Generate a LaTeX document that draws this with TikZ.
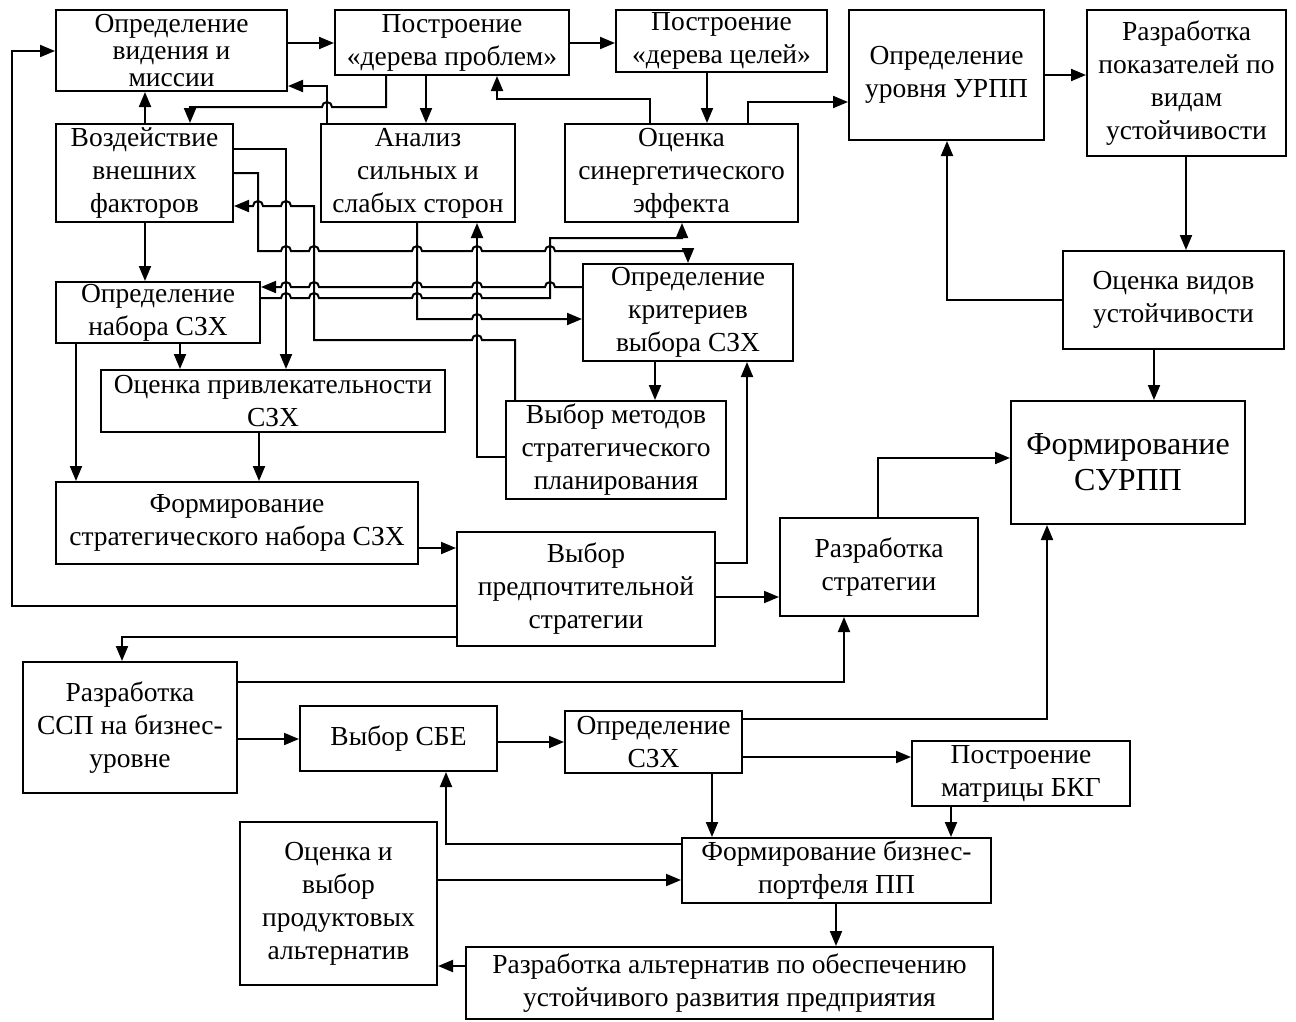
\documentclass[tikz,border=0pt]{standalone}
\usepackage{fontspec}
\setmainfont{Liberation Serif}
\usetikzlibrary{arrows.meta}

% box given by its corners (x1,y1)-(x2,y2), y measured downwards
\newcommand\blk[7][]{%
  \node[box, #1, minimum width={#5-#3}, minimum height={#6-#4}]
    (#2) at ({(#3+#5)/2},{(#4+#6)/2}) {#7};}
% small upward hop over a vertical line at x=#1 on a horizontal run at y=#2
\newcommand\hopR[2]{-- ({#1-5},#2) arc[start angle=180,end angle=0,radius=5pt]}
\newcommand\hopL[2]{-- ({#1+5},#2) arc[start angle=0,end angle=180,radius=5pt]}

\tikzset{
  box/.style={draw, line width=2pt, align=center, inner sep=0pt,
    font=\fontsize{27.5}{33}\selectfont},
  arr/.style={line width=2pt, -{Triangle[length=15pt,width=12pt]}},
}

\begin{document}
\begin{tikzpicture}[x=1pt,y=-1pt]
\fill[white] (0,0) rectangle (1296,1021);
\useasboundingbox (0,0) rectangle (1296,1021);

% ---- blocks ----
\blk[font=\fontsize{27.5}{27}\selectfont]{vision}{56}{10}{287}{91}{Определение\\видения и\\миссии}
\blk{probtree}{335}{10}{569}{75}{Построение\\«дерева проблем»}
\blk{goaltree}{616}{10}{827}{72}{Построение\\«дерева целей»}
\blk{urpp}{849}{10}{1044}{140}{Определение\\уровня УРПП}
\blk{indic}{1087}{10}{1286}{156}{Разработка\\показателей по\\видам\\устойчивости}
\blk{external}{56}{124}{233}{222}{Воздействие\\внешних\\факторов}
\blk{swot}{321}{124}{515}{222}{Анализ\\сильных и\\слабых сторон}
\blk{synergy}{565}{124}{798}{222}{Оценка\\синергетического\\эффекта}
\blk{setszh}{56}{282}{260}{343}{Определение\\набора СЗХ}
\blk{criteria}{583}{264}{793}{361}{Определение\\критериев\\выбора СЗХ}
\blk{attract}{101}{370}{445}{432}{Оценка привлекательности\\СЗХ}
\blk{methods}{506}{401}{726}{499}{Выбор методов\\стратегического\\планирования}
\blk{assess}{1063}{251}{1284}{349}{Оценка видов\\устойчивости}
\blk[font=\fontsize{32}{36}\selectfont]{surpp}{1011}{401}{1245}{524}{Формирование\\СУРПП}
\blk{stratset}{56}{482}{418}{564}{Формирование\\стратегического набора СЗХ}
\blk{prefer}{457}{532}{715}{646}{Выбор\\предпочтительной\\стратегии}
\blk{strategy}{780}{518}{978}{616}{Разработка\\стратегии}
\blk{ssp}{23}{662}{237}{793}{Разработка\\ССП на бизнес-\\уровне}
\blk{sbe}{300}{706}{497}{771}{Выбор СБЕ}
\blk{szh}{565}{711}{742}{773}{Определение\\СЗХ}
\blk{bkg}{912}{741}{1130}{806}{Построение\\матрицы БКГ}
\blk{portfolio}{682}{838}{991}{903}{Формирование бизнес-\\портфеля ПП}
\blk{product}{240}{822}{437}{985}{Оценка и\\выбор\\продуктовых\\альтернатив}
\blk{alt}{466}{947}{993}{1019}{Разработка альтернатив по обеспечению\\устойчивого развития предприятия}

% ---- top row ----
\draw[arr] (vision.east |- 0,43) -- (probtree.west |- 0,43);
\draw[arr] (probtree.east |- 0,43) -- (goaltree.west |- 0,43);
\draw[arr] (goaltree.south -| 707,0) -- (synergy.north -| 707,0);
\draw[arr] (synergy.north -| 748,0) |- (urpp.west |- 0,102);
\draw[arr] (synergy.north -| 650,0) |- (497,99) -- (probtree.south -| 497,0);
\draw[arr] (probtree.south -| 426,0) -- (swot.north -| 426,0);
\draw[arr] (probtree.south -| 386,0) -- (386,107) \hopL{327}{107} -- (190,107) -- (external.north -| 190,0);
\draw[arr] (swot.north -| 327,0) |- (vision.east |- 0,86);
\draw[arr] (external.north -| 145,0) -- (vision.south -| 145,0);
\draw[arr] (external.south -| 145,0) -- (setszh.north -| 145,0);

% ---- crossing bundle ----
\draw[arr] (external.east |- 0,149) -| (attract.north -| 286,0);
\draw[arr] (external.east |- 0,173) -- (258,173) -- (258,251)
  \hopR{286}{251} \hopR{314}{251} \hopR{417}{251} \hopR{477}{251} \hopR{550}{251}
  -- (688,251) -- (criteria.north -| 688,0);
\draw[arr] (methods.north -| 515,0) -- (515,340) \hopL{477}{340} -- (314,340) -- (314,206)
  \hopL{286}{206} \hopL{258}{206} -- (external.east |- 0,206);
\draw[arr] (criteria.west |- 0,287) \hopL{550}{287} \hopL{477}{287} \hopL{417}{287}
  \hopL{314}{287} \hopL{286}{287} -- (setszh.east |- 0,287);
\draw[arr] (setszh.east |- 0,298) \hopR{286}{298} \hopR{314}{298} \hopR{417}{298}
  \hopR{477}{298} -- (550,298) -- (550,238) -- (682,238) -- (synergy.south -| 682,0);
\draw[arr] (swot.south -| 417,0) -- (417,319) \hopR{477}{319} -- (criteria.west |- 0,319);
\draw[arr] (methods.west |- 0,457) -| (swot.south -| 477,0);

% ---- left column ----
\draw[arr] (setszh.south -| 180,0) -- (attract.north -| 180,0);
\draw[arr] (setszh.south -| 76,0) -- (stratset.north -| 76,0);
\draw[arr] (attract.south -| 259,0) -- (stratset.north -| 259,0);
\draw[arr] (criteria.south -| 655,0) -- (methods.north -| 655,0);
\draw[arr] (stratset.east |- 0,548) -- (prefer.west |- 0,548);
\draw[arr] (prefer.west |- 0,606) -- (12,606) |- (vision.west |- 0,51);
\draw[arr] (prefer.west |- 0,637) -| (ssp.north -| 122,0);
\draw[arr] (prefer.east |- 0,597) -- (strategy.west |- 0,597);
\draw[arr] (prefer.east |- 0,563) -| (criteria.south -| 747,0);
\draw[arr] (strategy.north -| 878,0) |- (surpp.west |- 0,458);

% ---- business level ----
\draw[arr] (ssp.east |- 0,682) -| (strategy.south -| 844,0);
\draw[arr] (ssp.east |- 0,739) -- (sbe.west |- 0,739);
\draw[arr] (sbe.east |- 0,742) -- (szh.west |- 0,742);
\draw[arr] (szh.east |- 0,719) -| (surpp.south -| 1047,0);
\draw[arr] (szh.east |- 0,757) -- (bkg.west |- 0,757);
\draw[arr] (szh.south -| 712,0) -- (portfolio.north -| 712,0);
\draw[arr] (bkg.south -| 951,0) -- (portfolio.north -| 951,0);
\draw[arr] (portfolio.west |- 0,844) -| (sbe.south -| 446,0);
\draw[arr] (product.east |- 0,880) -- (portfolio.west |- 0,880);
\draw[arr] (portfolio.south -| 836,0) -- (alt.north -| 836,0);
\draw[arr] (alt.west |- 0,966) -- (product.east |- 0,966);

% ---- sustainability branch ----
\draw[arr] (urpp.east |- 0,75) -- (indic.west |- 0,75);
\draw[arr] (indic.south -| 1186,0) -- (assess.north -| 1186,0);
\draw[arr] (assess.west |- 0,300) -| (urpp.south -| 947,0);
\draw[arr] (assess.south -| 1154,0) -- (surpp.north -| 1154,0);
\end{tikzpicture}
\end{document}
